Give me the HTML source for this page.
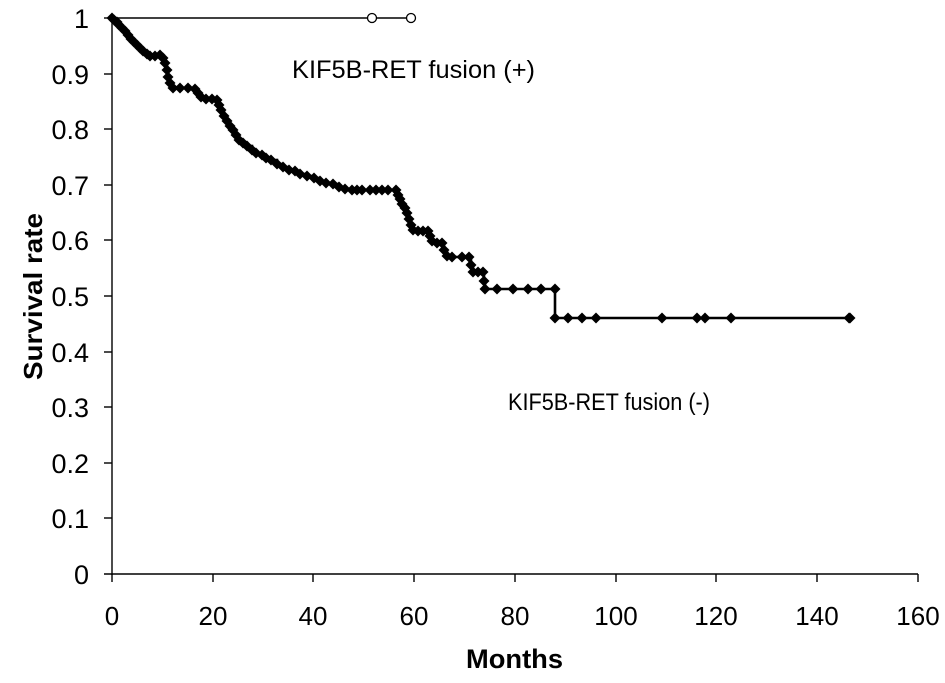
<!DOCTYPE html>
<html><head><meta charset="utf-8"><style>
html,body{margin:0;padding:0;background:#fff;}
svg{display:block;}
text{font-family:"Liberation Sans",Arial,sans-serif;}
</style></head><body>
<svg id="s" width="945" height="683" viewBox="0 0 945 683" xmlns="http://www.w3.org/2000/svg">
<rect width="945" height="683" fill="#fff"/>
<g stroke="#000" stroke-width="1.4" fill="none">
<line x1="112" y1="18" x2="112" y2="575"/>
<line x1="104" y1="574" x2="918" y2="574"/>
<line x1="104" y1="18" x2="112" y2="18"/><line x1="104" y1="74" x2="112" y2="74"/><line x1="104" y1="129" x2="112" y2="129"/><line x1="104" y1="185" x2="112" y2="185"/><line x1="104" y1="240" x2="112" y2="240"/><line x1="104" y1="296" x2="112" y2="296"/><line x1="104" y1="352" x2="112" y2="352"/><line x1="104" y1="407" x2="112" y2="407"/><line x1="104" y1="463" x2="112" y2="463"/><line x1="104" y1="518" x2="112" y2="518"/>
<line x1="112" y1="574" x2="112" y2="582"/><line x1="213" y1="574" x2="213" y2="582"/><line x1="313" y1="574" x2="313" y2="582"/><line x1="414" y1="574" x2="414" y2="582"/><line x1="515" y1="574" x2="515" y2="582"/><line x1="616" y1="574" x2="616" y2="582"/><line x1="716" y1="574" x2="716" y2="582"/><line x1="817" y1="574" x2="817" y2="582"/><line x1="918" y1="574" x2="918" y2="582"/>
</g>
<g font-size="27" text-anchor="end" fill="#000">
<text x="89" y="28">1</text><text x="89" y="84">0.9</text><text x="89" y="139">0.8</text><text x="89" y="195">0.7</text><text x="89" y="250">0.6</text><text x="89" y="306">0.5</text><text x="89" y="362">0.4</text><text x="89" y="417">0.3</text><text x="89" y="473">0.2</text><text x="89" y="528">0.1</text><text x="89" y="584">0</text>
</g>
<g font-size="26" text-anchor="middle" fill="#000">
<text x="112" y="625">0</text><text x="213" y="625">20</text><text x="313" y="625">40</text><text x="414" y="625">60</text><text x="515" y="625">80</text><text x="616" y="625">100</text><text x="716" y="625">120</text><text x="817" y="625">140</text><text x="918" y="625">160</text>
</g>
<text x="466" y="668" font-size="27" font-weight="bold" textLength="97" lengthAdjust="spacingAndGlyphs">Months</text>
<text transform="translate(42,380) rotate(-90)" font-size="26" font-weight="bold" textLength="167" lengthAdjust="spacingAndGlyphs">Survival rate</text>
<text x="292" y="78" font-size="25" textLength="243" lengthAdjust="spacingAndGlyphs">KIF5B-RET fusion (+)</text>
<text x="508" y="410" font-size="24" textLength="202" lengthAdjust="spacingAndGlyphs">KIF5B-RET fusion (-)</text>
<line x1="112" y1="18" x2="411" y2="18" stroke="#000" stroke-width="1.6"/>
<circle cx="372" cy="18" r="4.5" fill="#fff" stroke="#000" stroke-width="1.3"/>
<circle cx="411" cy="18" r="4.5" fill="#fff" stroke="#000" stroke-width="1.3"/>
<g id="curve"></g>
</svg>
<script>
var pts=[[112,18],[114,20],[117,22],[119,25],[122,28],[125,31],[128,35],[131,39],[134,42],[137,45],[140,48],[143,51],[147,54],[150,56],[155,56],[160,55],[163,58],[165,63],[167,70],[168,77],[170,83],[173,88],[180,88],[188,88],[195,89],[198,93],[201,97],[206,99],[212,99],[217,100],[219,105],[221,110],[224,116],[227,121],[230,126],[233,130],[236,135],[239,140],[243,143],[247,146],[252,150],[256,153],[262,155],[266,158],[271,160],[277,164],[283,167],[289,170],[295,171],[300,174],[307,176],[314,178],[320,181],[326,183],[333,184],[339,187],[345,189],[352,190],[357,190],[362,190],[370,190],[376,190],[382,190],[388,190],[396,190],[398,195],[400,199],[402,204],[405,208],[407,213],[409,219],[411,225],[413,230],[418,231],[423,231],[428,231],[430,236],[432,241],[437,243],[442,243],[444,250],[447,256],[452,257],[462,257],[469,257],[471,265],[473,272],[478,272],[483,272],[484,281],[485,289],[497,289],[513,289],[528,289],[541,289],[555,289],[555,318],[568,318],[582,318],[596,318],[662,318],[697,318],[705,318],[731,318],[849,318],[850,318]];
var g=document.getElementById('curve');var ns='http://www.w3.org/2000/svg';
var d='M'+pts[0][0]+','+pts[0][1];
for(var i=1;i<pts.length;i++){d+=' H'+pts[i][0]+' V'+pts[i][1];}
var p=document.createElementNS(ns,'path');p.setAttribute('d',d);p.setAttribute('fill','none');p.setAttribute('stroke','#000');p.setAttribute('stroke-width','2.6');g.appendChild(p);
var r=5.5;
for(var i=0;i<pts.length;i++){var x=pts[i][0],y=pts[i][1];var q=document.createElementNS(ns,'polygon');q.setAttribute('points',(x-r)+','+y+' '+x+','+(y-r)+' '+(x+r)+','+y+' '+x+','+(y+r));q.setAttribute('fill','#000');g.appendChild(q);}
</script>
</body></html>
